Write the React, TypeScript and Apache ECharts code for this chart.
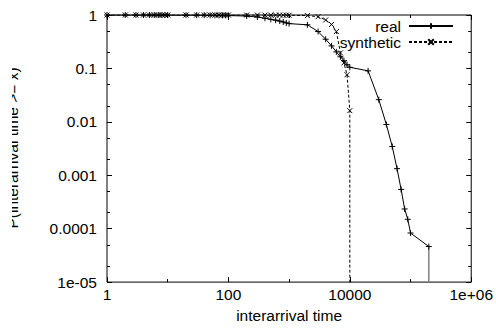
import { useEffect, useRef } from 'react';
import * as echarts from 'echarts';

// Complementary CDF of interarrival times, binned at 1..9 x 10^k
const realTimes = [
  1, 2, 3, 4, 5, 6, 7, 8, 9, 10,
  20, 30, 40, 50, 60, 70, 80, 90, 100,
  200, 300, 400, 500, 600, 700, 800, 900, 1000,
  2000, 3000, 4000, 5000, 6000, 7000, 8000, 9000, 10000,
  20000, 30000, 40000, 50000, 60000, 70000, 80000, 90000, 100000,
  200000,
];
const realCcdf = [
  1, 1, 1, 0.999, 0.999, 0.998, 0.998, 0.997, 0.997, 0.996,
  0.993, 0.991, 0.989, 0.987, 0.985, 0.983, 0.981, 0.979, 0.977,
  0.955, 0.918, 0.87, 0.83, 0.8, 0.77, 0.74, 0.71, 0.69,
  0.655, 0.49, 0.352, 0.264, 0.204, 0.165, 0.139, 0.117, 0.105,
  0.09, 0.026, 0.0089, 0.00345, 0.00133, 0.000543, 0.000234, 0.00015, 0.000083,
  0.0000463,
];

const synTimes = [
  1, 2, 3, 4, 5, 6, 7, 8, 9, 10,
  20, 30, 40, 50, 60, 70, 80, 90, 100,
  200, 300, 400, 500, 600, 700, 800, 900, 1000,
  2000, 3000, 4000, 5000, 6000, 7000, 8000, 9000, 10000,
];
const synCcdf = [
  1, 1, 1, 1, 1, 1, 1, 1, 1, 1,
  1, 1, 1, 1, 1, 1, 1, 1, 0.999,
  0.999, 0.998, 0.997, 0.996, 0.995, 0.994, 0.993, 0.992, 0.99,
  0.975, 0.93, 0.807, 0.665, 0.49, 0.195, 0.127, 0.076, 0.0162,
];

// probability of the empty bin after the last sample (zero, below the log floor)
const EMPTY_TAIL = 1e-8;

const xMajorTicks = [1, 100, 10000, 1000000];
const xMajorLabels = ['1', '100', '10000', '1e+06'];
const xMinorTicks = [10, 1000, 100000];
const yMajorTicks = [1e-5, 1e-4, 1e-3, 1e-2, 0.1, 1];
const yMajorLabels = ['1e-05', '0.0001', '0.001', '0.01', '0.1', '1'];
const yMinorTicks = [2e-5, 5e-5, 2e-4, 5e-4, 2e-3, 5e-3, 0.02, 0.05, 0.2, 0.5];

const FONT = "'Liberation Sans', Arial, Helvetica, sans-serif";
const FONT_SIZE = 15.5;

const PLUS = 'path://M0,5L10,5M5,0L5,10';
const CROSS = 'path://M0,0L10,10M10,0L0,10';

const labelFor = (ticks: number[], labels: string[]) => (v: number) => {
  const i = ticks.findIndex((t) => Math.abs(Math.log10(t) - Math.log10(v)) < 1e-6);
  return i >= 0 ? labels[i] : '';
};

function logAxis(
  min: number,
  max: number,
  position: string,
  ticks: number[],
  tickLen: number,
  labels?: string[],
  extra: Record<string, unknown> = {}
) {
  return {
    type: 'log',
    logBase: 10,
    min,
    max,
    position,
    axisLine: { show: false },
    splitLine: { show: false },
    minorTick: { show: false },
    axisTick: {
      show: true,
      inside: true,
      length: tickLen,
      customValues: ticks,
      lineStyle: { color: '#000', width: 1 },
    },
    axisLabel: labels
      ? {
          show: true,
          customValues: ticks,
          formatter: labelFor(ticks, labels),
          fontFamily: FONT,
          fontSize: FONT_SIZE,
          color: '#000',
          showMinLabel: true,
          showMaxLabel: true,
          hideOverlap: false,
        }
      : { show: false },
    ...extra,
  };
}

export default function App() {
  const ref = useRef<HTMLDivElement>(null);

  useEffect(() => {
    if (!ref.current) return;
    const chart = echarts.init(ref.current, undefined, { renderer: 'svg' });

    const realData = realTimes.map((t, i) => [t, realCcdf[i]]);
    const lastReal = realData[realData.length - 1];
    const synData = synTimes.map((t, i) => [t, synCcdf[i]]);
    synData.push([synTimes[synTimes.length - 1], EMPTY_TAIL]);

    const textStyle = { fontFamily: FONT, fontSize: FONT_SIZE, color: '#000' };

    const legendBase = {
      right: 42,
      orient: 'vertical',
      align: 'right',
      padding: 0,
      itemWidth: 44,
      itemHeight: 7,
      selectedMode: false,
      textStyle: { ...textStyle, padding: [0, 3, 0, 0] },
    };

    chart.setOption({
      animation: false,
      backgroundColor: '#fff',
      grid: {
        left: 95,
        right: 22,
        top: 15,
        bottom: 45,
        show: true,
        borderColor: '#000',
        borderWidth: 1,
        backgroundColor: 'transparent',
      },
      xAxis: [
        logAxis(1, 1e6, 'bottom', xMajorTicks, 5, xMajorLabels, {
          name: 'interarrival time',
          nameLocation: 'middle',
          nameGap: 19,
          nameTextStyle: textStyle,
          axisLabel: {
            show: true,
            customValues: xMajorTicks,
            formatter: labelFor(xMajorTicks, xMajorLabels),
            fontFamily: FONT,
            fontSize: FONT_SIZE,
            color: '#000',
            margin: 4,
            showMinLabel: true,
            showMaxLabel: true,
            hideOverlap: false,
          },
        }),
        logAxis(1, 1e6, 'bottom', xMinorTicks, 3),
        logAxis(1, 1e6, 'top', xMajorTicks, 5),
        logAxis(1, 1e6, 'top', xMinorTicks, 3),
      ],
      yAxis: [
        logAxis(1e-5, 1, 'left', yMajorTicks, 5, yMajorLabels, {
          axisLabel: {
            show: true,
            customValues: yMajorTicks,
            formatter: labelFor(yMajorTicks, yMajorLabels),
            fontFamily: FONT,
            fontSize: FONT_SIZE,
            color: '#000',
            margin: 10,
            showMinLabel: true,
            showMaxLabel: true,
            hideOverlap: false,
          },
        }),
        logAxis(1e-5, 1, 'left', yMinorTicks, 3),
        logAxis(1e-5, 1, 'right', yMajorTicks, 5),
        logAxis(1e-5, 1, 'right', yMinorTicks, 3),
      ],
      legend: [
        { ...legendBase, data: ['real'], top: 18 },
        { ...legendBase, data: ['synthetic'], top: 34 },
      ],
      graphic: [
        {
          type: 'text',
          x: 8,
          y: 148,
          rotation: Math.PI / 2,
          style: {
            text: 'P(interarrival time >= x)',
            fontFamily: FONT,
            fontSize: FONT_SIZE,
            fill: '#000',
            textAlign: 'center',
            textVerticalAlign: 'bottom',
          },
        },
      ],
      series: [
        {
          name: 'real',
          type: 'line',
          data: realData,
          xAxisIndex: 0,
          yAxisIndex: 0,
          clip: true,
          showAllSymbol: true,
          symbol: PLUS,
          symbolSize: 6,
          lineStyle: { color: '#000', width: 1 },
          itemStyle: { color: 'none', borderColor: '#000', borderWidth: 1 },
          z: 3,
        },
        {
          name: 'real tail',
          type: 'line',
          data: [lastReal, [lastReal[0], EMPTY_TAIL]],
          xAxisIndex: 0,
          yAxisIndex: 0,
          clip: true,
          symbol: 'none',
          lineStyle: { color: '#808080', width: 1.5 },
          z: 2,
        },
        {
          name: 'synthetic',
          type: 'line',
          data: synData,
          xAxisIndex: 0,
          yAxisIndex: 0,
          clip: true,
          showAllSymbol: true,
          symbol: CROSS,
          symbolSize: 5,
          lineStyle: { color: '#000', width: 1, type: [3, 2] },
          itemStyle: { color: 'none', borderColor: '#000', borderWidth: 1 },
          z: 3,
        },
      ],
    });

    return () => chart.dispose();
  }, []);

  return (
    <div
      ref={ref}
      style={{
        position: 'absolute',
        left: 12,
        top: 0,
        width: 484,
        height: 328,
        overflow: 'hidden',
        background: '#fff',
      }}
    />
  );
}
